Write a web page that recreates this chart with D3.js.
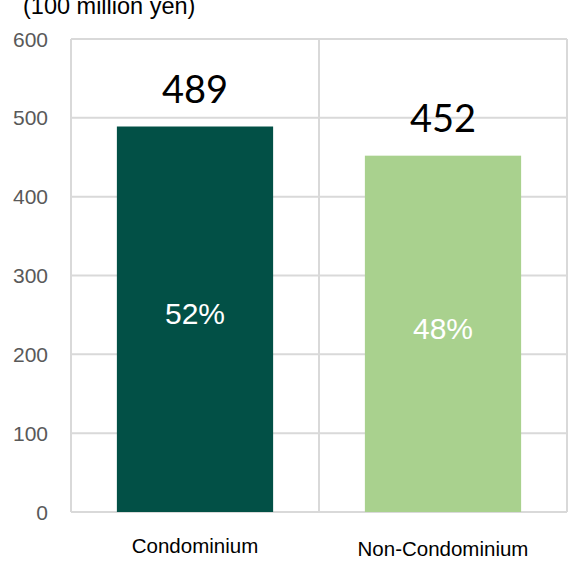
<!DOCTYPE html>
<html>
<head>
<meta charset="utf-8">
<script src="https://cdn.jsdelivr.net/npm/d3@7"></script>
<style>
  html, body { margin: 0; padding: 0; background: #fff; }
  svg { display: block; }
</style>
</head>
<body>
<svg id="chart" width="568" height="562"></svg>
<script>
const categories = ["Condominium", "Non-Condominium"];
const values = [489, 452];
const shares = ["52%", "48%"];
const barColors = ["#025046", "#a9d18e"];
const yTicks = [0, 100, 200, 300, 400, 500, 600];
const unitLabel = "(100 million yen)";

(function () {
const svg = d3.select("#chart");
const pLeft = 71, pRight = 567, pTop = 39, pBottom = 512;

const x = d3.scaleBand().domain(categories).range([pLeft, pRight])
  .paddingInner(0.37).paddingOuter(0.185);
const y = d3.scaleLinear().domain([0, 600]).range([pBottom, pTop]);

const grid = "#d9d9d9";
// horizontal gridlines
svg.append("g").selectAll("line").data(yTicks).join("line")
  .attr("x1", pLeft).attr("x2", pRight)
  .attr("y1", d => y(d)).attr("y2", d => y(d))
  .attr("stroke", grid).attr("stroke-width", 2);

// vertical category separators
const seps = [pLeft].concat(categories.map((c, i) => pLeft + x.step() * (i + 1)));
svg.append("g").selectAll("line").data(seps).join("line")
  .attr("x1", d => d).attr("x2", d => d)
  .attr("y1", y(600)).attr("y2", y(0))
  .attr("stroke", grid).attr("stroke-width", 2);

// y tick labels
svg.append("g").selectAll("text").data(yTicks).join("text")
  .attr("x", 48).attr("y", d => y(d))
  .attr("dy", "0.36em")
  .attr("text-anchor", "end")
  .attr("font-family", "Liberation Sans, Arial, sans-serif")
  .attr("font-size", 21).attr("fill", "#595959")
  .text(d => d);

// unit label
svg.append("text")
  .attr("x", 23).attr("y", 14)
  .attr("font-family", "Liberation Sans, Arial, sans-serif")
  .attr("font-size", 23.5).attr("fill", "#000")
  .text(unitLabel);

// bars
svg.append("g").selectAll("rect").data(values).join("rect")
  .attr("x", (d, i) => x(categories[i]))
  .attr("width", x.bandwidth())
  .attr("y", d => y(d))
  .attr("height", d => y(0) - y(d))
  .attr("fill", (d, i) => barColors[i]);

// value labels
svg.append("g").selectAll("text").data(values).join("text")
  .attr("x", (d, i) => x(categories[i]) + x.bandwidth() / 2)
  .attr("y", d => y(d) - 24)
  .attr("text-anchor", "middle")
  .attr("font-family", "Lato, Carlito, Calibri, sans-serif")
  .attr("font-size", 38).attr("fill", "#000")
  .text(d => d);

// share labels
svg.append("g").selectAll("text").data(values).join("text")
  .attr("x", (d, i) => x(categories[i]) + x.bandwidth() / 2)
  .attr("y", d => y(d / 2) + 5)
  .attr("text-anchor", "middle")
  .attr("font-family", "Liberation Sans, Arial, sans-serif")
  .attr("font-size", 30).attr("fill", "#fff")
  .text((d, i) => shares[i]);

// category labels
svg.append("g").selectAll("text").data(categories).join("text")
  .attr("x", d => x(d) + x.bandwidth() / 2)
  .attr("y", (d, i) => 553 + i * 3)
  .attr("text-anchor", "middle")
  .attr("font-family", "Liberation Sans, Arial, sans-serif")
  .attr("font-size", 20.5).attr("fill", "#000")
  .text(d => d);
})();
</script>
</body>
</html>
